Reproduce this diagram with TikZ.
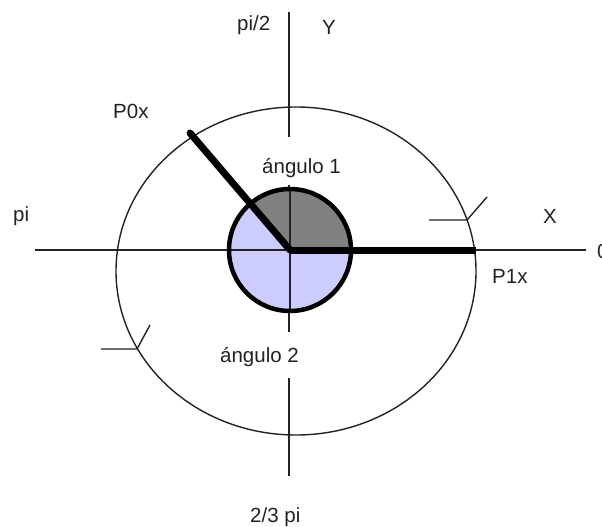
\documentclass[tikz,border=0pt]{standalone}
\usepackage{fontspec}
\setmainfont{Liberation Sans}
\usepackage{xcolor}
\usepackage{tikz}
\usetikzlibrary{calc}
\definecolor{lightblue}{HTML}{CCCCFF}
\definecolor{midgrey}{HTML}{808080}
\definecolor{ink}{HTML}{222222}
\tikzset{
  axisline/.style={line width=1.6pt, color=ink},
  orbit/.style={line width=1.4pt, color=ink},
  thickradius/.style={line width=7pt, color=black},
  ring/.style={line width=4.5pt, color=black},
  dirmark/.style={line width=1.4pt, color=ink},
  lbl/.style={font=\fontsize{20.5}{24}\selectfont, color=ink, anchor=base west, inner sep=0pt},
  anglbl/.style={lbl, fill=white, inner xsep=2pt},
}

\begin{document}
\begin{tikzpicture}[x=1pt, y=-1pt]

  \useasboundingbox (0,0) rectangle (602,527);

  % points
  \coordinate (O)  at (290,250);
  \coordinate (P0) at (190,133);
  \coordinate (P1) at (476,250);

  % big ellipse
  \draw[orbit] (296,271) ellipse [x radius=180, y radius=164];

  % axes
  \coordinate (xl) at (35,250);
  \coordinate (xr) at (586,250);
  \coordinate (yt) at (289,12);
  \coordinate (yb) at (289,476);
  \draw[axisline] (xl) -- (xr);
  \draw[axisline] (yt) -- (yb);

  % small circle
  \fill[lightblue] (O) circle [radius=61];
  \fill[midgrey] (O) -- ++(61,0) arc [start angle=0, end angle=-129.5, radius=61] -- cycle;
  \draw[axisline] (O) ++(0,-61) -- ++(0,122);
  \draw[axisline] (O) ++(-61,0) -- ++(122,0);
  \draw[ring] (O) circle [radius=61];

  % radii
  \draw[thickradius, line cap=round] (O) -- (P0);
  \draw[thickradius] (O) -- (P1);

  % direction marks on the ellipse
  \draw[dirmark] (429,220) -- (467,220) -- (487,197);
  \draw[dirmark] (101,349) -- (137,349) -- (150,325);

  % labels
  \node[lbl] (lpi2)  at (237,31)  {pi/2};
  \node[lbl] (ly)    at (322,35)  {Y};
  \node[lbl] (lp0)   at (113,118) {P0x};
  \node[anglbl, text height=36pt, text depth=12pt] (lang1) at (260,173) {ángulo 1};
  \node[lbl] (lpi)   at (13,221)  {pi};
  \node[lbl] (lx)    at (543,223) {X};
  \node[lbl] (lzero) at (597,258) {0};
  \node[lbl] (lp1)   at (492,283) {P1x};
  \node[anglbl, text height=30pt, text depth=16pt] (lang2) at (218,362) {ángulo 2};
  \node[lbl] (l23pi) at (250,522) {2/3 pi};

\end{tikzpicture}
\end{document}
